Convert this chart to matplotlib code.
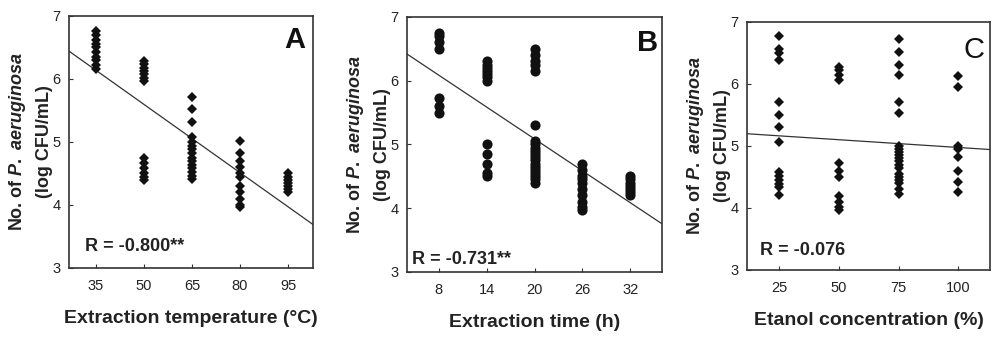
import matplotlib
matplotlib.use("Agg")
import matplotlib.pyplot as plt
import numpy as np

plt.rcParams["font.family"] = ["Liberation Sans", "DejaVu Sans"]
plt.rcParams["mathtext.fontset"] = "custom"
plt.rcParams["mathtext.it"] = "Liberation Sans:italic:bold"
plt.rcParams["mathtext.rm"] = "Liberation Sans:bold"

# ---------------------------------------------------------------------------
# Data
# ---------------------------------------------------------------------------

# A: extraction temperature
TEMP_X = [35, 50, 65, 80, 95]
TEMP_Y = [
    [6.76, 6.7, 6.62, 6.55, 6.5, 6.42, 6.35, 6.3, 6.22, 6.15],
    [6.28, 6.23, 6.18, 6.12, 6.07, 6.02, 5.96, 4.75, 4.66, 4.58, 4.5, 4.44, 4.4],
    [5.72, 5.52, 5.32, 5.08, 5.0, 4.94, 4.88, 4.82, 4.75, 4.7, 4.64, 4.58, 4.52,
     4.46, 4.41],
    [5.02, 4.82, 4.7, 4.6, 4.5, 4.44, 4.3, 4.2, 4.1, 4.0, 3.96],
    [4.5, 4.45, 4.4, 4.35, 4.3, 4.25, 4.2],
]
FIT_A = (7.40, -0.0361)   # intercept, slope
R_A = "R = -0.800**"

# B: extraction time
TIME_X = [8, 14, 20, 26, 32]
TIME_Y = [
    [6.75, 6.7, 6.6, 6.5, 5.72, 5.6, 5.5],
    [6.3, 6.25, 6.2, 6.15, 6.1, 6.05, 6.0, 5.0, 4.85, 4.7, 4.55, 4.5],
    [6.5, 6.4, 6.3, 6.25, 6.15, 5.3, 5.05, 5.0, 4.95, 4.9, 4.85, 4.8, 4.75, 4.7,
     4.65, 4.6, 4.55, 4.5, 4.45, 4.4],
    [4.7, 4.6, 4.5, 4.45, 4.4, 4.3, 4.2, 4.1, 4.02, 3.97],
    [4.5, 4.45, 4.4, 4.35, 4.3, 4.25, 4.2],
]
FIT_B = (6.75, -0.0832)
R_B = "R = -0.731**"

# C: ethanol concentration
ETOH_X = [25, 50, 75, 100]
ETOH_Y = [
    [6.77, 6.57, 6.5, 6.38, 5.71, 5.5, 5.31, 5.07, 4.58, 4.52, 4.45, 4.38, 4.33,
     4.21],
    [6.28, 6.22, 6.15, 6.07, 4.72, 4.6, 4.5, 4.2, 4.1, 4.02, 3.96],
    [6.72, 6.52, 6.3, 6.14, 5.71, 5.53, 5.0, 4.95, 4.9, 4.85, 4.8, 4.75, 4.7,
     4.65, 4.55, 4.5, 4.45, 4.4, 4.3, 4.23],
    [6.12, 5.95, 5.0, 4.95, 4.82, 4.6, 4.42, 4.25],
]
FIT_C = (5.225, -0.0025)
R_C = "R = -0.076"

YLABEL = "No. of $\\mathit{P.\\ aeruginosa}$\n(log CFU/mL)"

# ---------------------------------------------------------------------------
# Figure
# ---------------------------------------------------------------------------

fig = plt.figure(figsize=(10, 3.37), dpi=100)
fig.patch.set_facecolor("white")

FRAME = "#333333"


def panel(rect, xs, ys, fit, xlim, xlabel, rtext, rpos, letter, lpos,
          letter_bold, marker, ms):
    ax = fig.add_axes(rect)
    px = np.concatenate([np.full(len(v), x) for x, v in zip(xs, ys)])
    py = np.concatenate([np.array(v) for v in ys])
    ax.plot(px, py, linestyle="none", marker=marker, ms=ms, color="#111111",
            markeredgewidth=0, zorder=3)
    ax.set_xlim(*xlim)
    ax.set_ylim(3, 7)
    lx = np.array(xlim)
    ax.plot(lx, fit[0] + fit[1] * lx, color="#333333", lw=0.9, zorder=2)

    ax.set_xticks(xs)
    ax.set_yticks([3, 4, 5, 6, 7])
    ax.tick_params(direction="in", length=3, width=0.8, color=FRAME,
                   labelsize=10.5, labelcolor="#222222")
    ax.tick_params(axis="x", pad=8)
    ax.tick_params(axis="y", pad=6)
    for s in ax.spines.values():
        s.set_linewidth(1.2)
        s.set_color(FRAME)

    ax.set_xlabel(xlabel, fontsize=14, fontweight="bold", color="#222222",
                  labelpad=12)
    ax.set_ylabel(YLABEL, fontsize=13, fontweight="bold", color="#222222",
                  linespacing=1.6, labelpad=0)

    ax.text(rpos[0], rpos[1], rtext, transform=ax.transAxes, fontsize=13,
            fontweight="bold", color="#222222", ha="left", va="center")
    ax.text(lpos[0], lpos[1], letter, transform=ax.transAxes, fontsize=21,
            fontweight="bold" if letter_bold else "normal", color="#111111",
            ha="right", va="center")
    return ax


panel([0.069, 0.205, 0.244, 0.748], TEMP_X, TEMP_Y, FIT_A, (26.6, 102.8),
      "Extraction temperature (\u00b0C)", R_A, (0.066, 0.083),
      "A", (0.967, 0.905), True, "D", 5.6)
panel([0.407, 0.193, 0.255, 0.757], TIME_X, TIME_Y, FIT_B, (4, 36),
      "Extraction time (h)", R_B, (0.02, 0.047),
      "B", (0.984, 0.898), True, "o", 7.3)
panel([0.747, 0.199, 0.243, 0.736], ETOH_X, ETOH_Y, FIT_C, (11.5, 113.3),
      "Etanol concentration (%)", R_C, (0.053, 0.08),
      "C", (0.979, 0.887), False, "D", 5.3)

fig.savefig("out.png", dpi=100, facecolor="white")
